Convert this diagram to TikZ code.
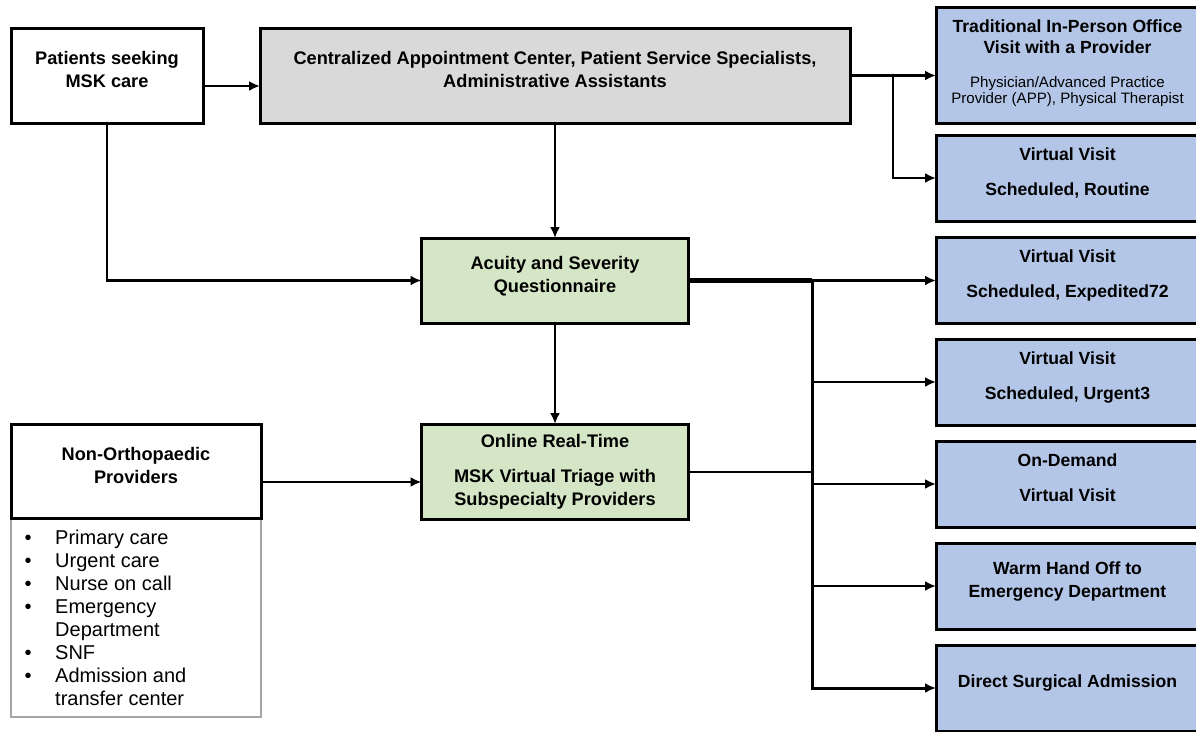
\documentclass[tikz,border=0pt]{standalone}
\usepackage{fontspec}
\setmainfont{Liberation Sans}
\usepackage{xcolor}
\usetikzlibrary{arrows.meta,positioning}
\definecolor{cgray}{HTML}{D9D9D9}
\definecolor{cgreen}{HTML}{D5E6C7}
\definecolor{cblue}{HTML}{B4C6E7}
\newcommand{\smalltxt}{\mdseries\fontsize{15.1}{17}\selectfont}
\tikzset{botpad/.store in=\padamt, botpad=13pt}
\tikzstyle{box} = [draw, rectangle, line width=3pt, outer sep=0pt, inner sep=0pt, align=center, botpad=13pt, execute at end node={\rule[-\padamt]{0pt}{\padamt}}, font=\bfseries\fontsize{18.2}{23}\selectfont]
\tikzstyle{outcome} = [box, fill=cblue, minimum width=263pt, minimum height=86pt, font=\bfseries\fontsize{17.6}{23}\selectfont]
\tikzstyle{arrow} = [line width=2.6pt, -{Latex[length=11pt,width=10pt]}]

\begin{document}
\begin{tikzpicture}[x=1pt, y=-1pt, node distance=16pt]
\useasboundingbox (0,0) rectangle (1196,731);

% left and middle
\node[box, minimum width=192pt, minimum height=95pt] (pat) at (107,75.5) {Patients seeking\\MSK care};
\node[box, fill=cgray, minimum width=590pt, minimum height=95pt] (cac) at (555,75.5) {Centralized Appointment Center, Patient Service Specialists,\\Administrative Assistants};
\node[box, fill=cgreen, minimum width=267pt, minimum height=85pt] (acu) at (555,280.5) {Acuity and Severity\\Questionnaire};
\node[box, fill=cgreen, botpad=0pt, minimum width=267pt, minimum height=95pt] (onl) at (555,471.5) {Online Real-Time\\[12pt]MSK Virtual Triage with\\Subspecialty Providers};
\node[draw=gray!70, line width=1.5pt, outer sep=0pt, minimum width=250pt, minimum height=199pt] (lst) at (136,617.5) {};
\node[box, botpad=11pt, fill=white, minimum width=250pt, minimum height=94pt] (nop) at (136,471) {Non-Orthopaedic\\Providers};
\node[anchor=north west, inner sep=0pt, font=\fontsize{20}{23}\selectfont] (items) at (24.5,528) {%
  \begin{tabular}{@{}l@{\hspace{23.5pt}}l@{}}
  \textbullet & Primary care\\
  \textbullet & Urgent care\\
  \textbullet & Nurse on call\\
  \textbullet & Emergency\\
              & Department\\
  \textbullet & SNF\\
  \textbullet & Admission and\\
              & transfer center
  \end{tabular}};

% right column
\node[outcome, botpad=7pt, minimum height=116pt] (trad) at (1067.5,65) {Traditional In-Person Office\\[-2.4pt]Visit with a Provider\\[11pt]{\smalltxt Physician/Advanced Practice}\\[-7pt]{\smalltxt Provider (APP), Physical Therapist}};
\node[outcome, below=12pt of trad] (rout) {Virtual Visit\\[12pt]Scheduled, Routine};
\node[outcome, below=of rout] (expd) {Virtual Visit\\[12pt]Scheduled, Expedited72};
\node[outcome, below=of expd] (urg) {Virtual Visit\\[12pt]Scheduled, Urgent3};
\node[outcome, below=of urg] (ond) {On-Demand\\[12pt]Virtual Visit};
\node[outcome, below=of ond] (warm) {Warm Hand Off to\\Emergency Department};
\node[outcome, below=of warm] (dsa) {Direct Surgical Admission};

\coordinate (fork) at (893,75.5);
\coordinate (bus) at (812,280.5);

\draw[arrow] ([yshift=-10.5pt]pat.east) -- ([yshift=-10.5pt]pat.east -| cac.west);
\draw[arrow] (cac.east) -- (cac.east -| trad.west);
\draw[arrow] (fork) |- (rout.west);
\draw[arrow] (cac.south) -- (acu.north);
\draw[arrow] (pat.south) |- (acu.west);
\draw[arrow] (acu.south) -- (onl.north);
\draw[arrow] ([yshift=-11pt]nop.east) -- ([yshift=-11pt]nop.east -| onl.west);

\draw[line width=5pt] (acu.east) -- (bus);
\draw[arrow, line width=2.3pt] (bus) -- (bus -| expd.west);
\draw[line width=2pt] (onl.east) -- (onl.east -| bus);
\draw[arrow, line width=3pt] (bus) |- (dsa.west);
\foreach \n in {urg,ond,warm}
  \draw[arrow] (bus |- \n.west) -- (\n.west);
\end{tikzpicture}
\end{document}
